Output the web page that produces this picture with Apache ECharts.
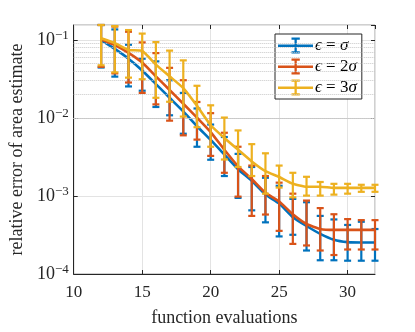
<!DOCTYPE html>
<html lang="en">
<head>
<meta charset="UTF-8">
<title>Relative error vs function evaluations</title>
<script src="https://cdn.jsdelivr.net/npm/echarts@6/dist/echarts.min.js"></script>
<style>
  html, body { margin: 0; padding: 0; background: #fff; }
  #main { width: 415px; height: 332px; }
</style>
</head>
<body>
<div id="main"></div>
<script type="text/javascript">

    // function evaluations (x)
    var evals = [12, 13, 14, 15, 16, 17, 18, 19, 20, 21, 22, 23, 24, 25, 26, 27, 28, 29, 30, 31, 32];

    // eps = sigma
    var meanS1 = [0.099, 0.0765, 0.0573, 0.0405, 0.0271, 0.0181, 0.0121, 0.00782, 0.00522, 0.00339, 0.00220,
        0.00156, 0.00104, 0.00080, 0.000535, 0.000412, 0.000327, 0.000275, 0.000256, 0.000253, 0.000253];
    var lowS1 = [0.0442, 0.0338, 0.0253, 0.0223, 0.0138, 0.0108, 0.00627, 0.00427, 0.00291, 0.00180, 0.000944,
        0.000654, 0.000459, 0.000303, 0.000318, 0.000200, 0.000150, 0.000150, 0.000148, 0.000148, 0.000148];
    var highS1 = [0.155, 0.136, 0.0866, 0.0573, 0.0530, 0.0304, 0.0209, 0.0132, 0.00822, 0.00569, 0.00346,
        0.00235, 0.00171, 0.00135, 0.000917, 0.000831, 0.000555, 0.000500, 0.000425, 0.000467, 0.000377];

    // eps = 2 sigma
    var meanS2 = [0.102, 0.0858, 0.0681, 0.0511, 0.0341, 0.0228, 0.0152, 0.0101, 0.00658, 0.00391, 0.00240,
        0.00165, 0.00110, 0.000849, 0.000583, 0.000437, 0.000378, 0.000368, 0.000368, 0.000368, 0.000368];
    var lowS2 = [0.0451, 0.0372, 0.0284, 0.0209, 0.0149, 0.00922, 0.00598, 0.00527, 0.00326, 0.00198, 0.00098,
        0.000555, 0.000578, 0.000357, 0.000243, 0.000232, 0.000200, 0.000175, 0.000206, 0.000206, 0.000206];
    var highS2 = [0.155, 0.148, 0.127, 0.0928, 0.0676, 0.0438, 0.0304, 0.0160, 0.0115, 0.00645, 0.00427,
        0.00245, 0.00180, 0.00148, 0.00107, 0.000873, 0.000699, 0.000583, 0.000505, 0.000490, 0.000490];

    // eps = 3 sigma
    var meanS3 = [0.105, 0.0909, 0.0743, 0.0722, 0.0482, 0.0341, 0.0241, 0.0143, 0.00805, 0.00553, 0.00391,
        0.00277, 0.00208, 0.00175, 0.00143, 0.00131, 0.00131, 0.00127, 0.00127, 0.00127, 0.00127];
    var lowS3 = [0.0472, 0.0383, 0.0328, 0.0313, 0.0181, 0.0161, 0.0104, 0.00760, 0.00427, 0.00293, 0.00235,
        0.00180, 0.00107, 0.00128, 0.00096, 0.00101, 0.00101, 0.00104, 0.00107, 0.00113, 0.00113];
    var highS3 = [0.155, 0.150, 0.1335, 0.1203, 0.0936, 0.0728, 0.0546, 0.0258, 0.0145, 0.0101, 0.00691,
        0.00461, 0.00352, 0.00245, 0.00198, 0.00176, 0.00151, 0.00143, 0.00143, 0.00139, 0.00139];

    var names = ['ϵ = σ', 'ϵ = 2σ', 'ϵ = 3σ'];
    var colors = ['#0072BD', '#D95319', '#EDB120'];

    // dotted minor grid: 2..9 times each decade
    var minorMult = [2, 3, 4, 5, 6, 7, 8, 9];
    var minorDecades = [1e-4, 1e-3, 1e-2];

    var font = 'Liberation Serif';
    var axisColor = '#262626';

    var minorLines = [];
    minorDecades.forEach(function (d) {
        minorMult.forEach(function (m) {
            minorLines.push({ yAxis: +(m * d).toPrecision(3) });
        });
    });

    function pairs(ys) {
        return evals.map(function (x, i) { return [x, ys[i]]; });
    }
    function bars(lo, hi) {
        return evals.map(function (x, i) { return [x, lo[i], hi[i]]; });
    }

    function renderBar(params, api) {
        var x = api.value(0);
        var top = api.coord([x, api.value(2)]);
        var bot = api.coord([x, api.value(1)]);
        var w = 3.5;
        var st = { stroke: api.visual('color'), lineWidth: 2.2 };
        return {
            type: 'group',
            children: [
                { type: 'line', shape: { x1: top[0], y1: top[1], x2: bot[0], y2: bot[1] }, style: st },
                { type: 'line', shape: { x1: top[0] - w, y1: top[1], x2: top[0] + w, y2: top[1] }, style: st },
                { type: 'line', shape: { x1: bot[0] - w, y1: bot[1], x2: bot[0] + w, y2: bot[1] }, style: st }
            ]
        };
    }

    var barIcon = 'path://M0,7H35V9.5H0Z M16.5,1H18.8V15H16.5Z M13.5,0H21.8V2.2H13.5Z M13.5,13.8H21.8V16H13.5Z';

    var sets = [[meanS1, lowS1, highS1], [meanS2, lowS2, highS2], [meanS3, lowS3, highS3]];
    var series = [{
        type: 'line',
        name: 'minor',
        data: [],
        z: 1,
        silent: true,
        markLine: {
            silent: true,
            symbol: ['none', 'none'],
            label: { show: false },
            lineStyle: { type: 'dotted', color: '#c8c8c8', width: 1 },
            data: minorLines
        }
    }];
    sets.forEach(function (s, k) {
        series.push({
            type: 'line',
            name: names[k],
            data: pairs(s[0]),
            showSymbol: false,
            smooth: 0.15,
            color: colors[k],
            lineStyle: { width: 2.6, color: colors[k] },
            z: 3 + 2 * k
        });
        series.push({
            type: 'custom',
            name: 'bar' + k,
            data: bars(s[1], s[2]),
            renderItem: renderBar,
            color: colors[k],
            encode: { x: 0, y: [1, 2] },
            z: 4 + 2 * k
        });
    });

    var myChart = echarts.init(document.getElementById('main'));
    myChart.setOption({
        animation: false,
        backgroundColor: '#fff',
        grid: {
            left: 67, right: 40, top: 25, bottom: 52,
            show: true, borderColor: '#a0a0a0', borderWidth: 1, backgroundColor: '#fff'
        },
        legend: {
            data: names.map(function (n) { return { name: n, icon: barIcon }; }),
            orient: 'vertical',
            left: 275, top: 34,
            itemWidth: 35, itemHeight: 17, itemGap: 4,
            padding: [3, 5, 3, 3],
            backgroundColor: '#fff',
            borderColor: axisColor, borderWidth: 1, borderRadius: 0,
            selectedMode: false,
            formatter: function (n) { return n.replace(/([ϵσ])/g, '{i|$1}'); },
            textStyle: {
                fontFamily: font, fontSize: 17, color: '#000', padding: [0, 0, 0, -3],
                rich: { i: { fontFamily: font, fontStyle: 'italic', fontSize: 17, color: '#000' } }
            }
        },
        xAxis: [{
            type: 'value',
            min: 10, max: 32, interval: 5,
            name: 'function evaluations',
            nameLocation: 'middle', nameGap: 35,
            nameTextStyle: { fontFamily: font, fontSize: 18, color: axisColor },
            axisLine: { show: true, onZero: false, lineStyle: { color: axisColor } },
            axisTick: { show: true, inside: true, length: 4, lineStyle: { color: axisColor } },
            axisLabel: { showMaxLabel: false, fontFamily: font, fontSize: 17, color: axisColor, margin: 10 },
            splitLine: { show: true, lineStyle: { color: '#e3e3e3' } }
        }, {
            type: 'value', position: 'top',
            min: 10, max: 32, interval: 5,
            axisLine: { show: false },
            axisTick: { show: true, inside: true, length: 4, lineStyle: { color: axisColor } },
            axisLabel: { show: false },
            splitLine: { show: false }
        }],
        yAxis: [{
            type: 'log', logBase: 10,
            min: 1e-4, max: 0.155,
            name: 'relative error of area estimate',
            nameLocation: 'middle', nameGap: 38,
            nameTextStyle: { fontFamily: font, fontSize: 18, color: axisColor },
            axisLine: { show: true, lineStyle: { color: axisColor } },
            axisTick: { show: true, inside: true, length: 4, lineStyle: { color: axisColor } },
            axisLabel: {
                showMaxLabel: false, margin: 5,
                formatter: function (v) {
                    var e = Math.round(Math.log10(v));
                    return '{b|10}{s|−' + Math.abs(e) + '}';
                },
                rich: {
                    b: { fontFamily: font, fontSize: 18, color: axisColor, lineHeight: 22 },
                    s: { fontFamily: font, fontSize: 13, color: axisColor, lineHeight: 12, verticalAlign: 'top' }
                }
            },
            splitLine: { show: true, lineStyle: { color: '#e3e3e3' } }
        }, {
            type: 'log', logBase: 10, position: 'right',
            min: 1e-4, max: 0.155,
            axisLine: { show: false },
            axisTick: { show: true, inside: true, length: 4, lineStyle: { color: axisColor } },
            axisLabel: { show: false },
            splitLine: { show: false }
        }],
        series: series
    });

</script>
</body>
</html>
